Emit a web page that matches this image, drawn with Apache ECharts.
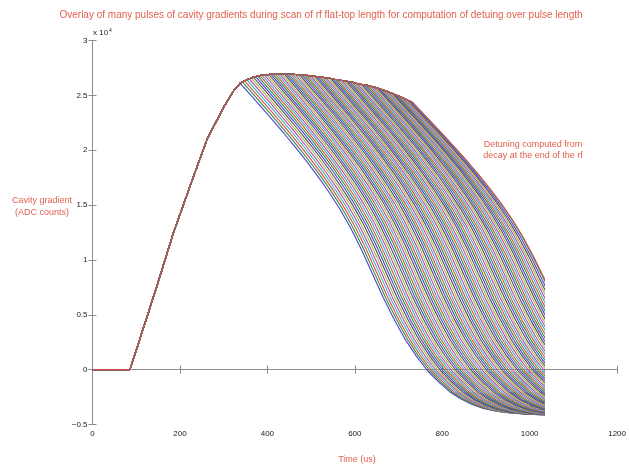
<!DOCTYPE html>
<html>
<head>
<meta charset="utf-8">
<script src="https://cdn.jsdelivr.net/npm/echarts@6/dist/echarts.min.js"></script>
<style>
  html, body { margin: 0; padding: 0; background: #fff; }
  #main { width: 629px; height: 466px; }
</style>
</head>
<body>
<div id="main"></div>
<script>
// values in units of 10^4 ADC counts, time in us
var riseT = [0, 85, 146, 183, 221, 259, 297, 320];
var riseV = [0, 0, 0.76, 1.24, 1.67, 2.09, 2.39, 2.54];

// end of rf flat-top for each pulse, and gradient at that moment
var offT = [335, 340, 345, 350, 355, 360, 365, 370, 375, 380,
    385, 390, 395, 400, 405, 410, 415, 420, 425, 430,
    435, 440, 445, 450, 455, 460, 465, 470, 475, 480,
    485, 490, 495, 500, 505, 510, 515, 520, 525, 530,
    535, 540, 545, 550, 555, 560, 565, 570, 575, 580,
    585, 590, 595, 600, 605, 610, 615, 620, 625, 630,
    635, 640, 645, 650, 655, 660, 665, 670, 675, 680,
    685, 690, 695, 700, 705, 710, 715, 720, 725, 727];
var offV = [2.61, 2.622, 2.633, 2.643, 2.652, 2.659, 2.665, 2.671, 2.676, 2.68,
    2.683, 2.686, 2.688, 2.69, 2.691, 2.692, 2.693, 2.694, 2.695, 2.695,
    2.695, 2.694, 2.693, 2.693, 2.692, 2.69, 2.689, 2.687, 2.686, 2.684,
    2.682, 2.68, 2.678, 2.676, 2.673, 2.671, 2.668, 2.666, 2.663, 2.66,
    2.657, 2.654, 2.651, 2.647, 2.644, 2.64, 2.636, 2.633, 2.629, 2.625,
    2.621, 2.618, 2.614, 2.609, 2.605, 2.601, 2.598, 2.594, 2.589, 2.584,
    2.579, 2.574, 2.568, 2.562, 2.555, 2.549, 2.542, 2.534, 2.526, 2.519,
    2.51, 2.502, 2.493, 2.484, 2.475, 2.466, 2.457, 2.449, 2.44, 2.432];

// decay after rf off, read from the first pulse (scaled by each pulse's gradient)
var decayDt = [0, 25, 50, 75, 100, 125, 150, 175, 200, 225, 250, 275, 300, 325, 350, 375,
    400, 425, 450, 475, 500, 525, 550, 575, 600, 625, 650, 700];
var decayV = [2.60, 2.487, 2.374, 2.259, 2.142, 2.021, 1.895, 1.762, 1.62, 1.465, 1.29, 1.09,
    0.87, 0.65, 0.45, 0.27, 0.12, -0.01, -0.11, -0.20, -0.265, -0.315, -0.35, -0.373,
    -0.388, -0.396, -0.40, -0.40];

var xTicks = [0, 200, 400, 600, 800, 1000, 1200];
var yTicks = [-0.5, 0, 0.5, 1, 1.5, 2, 2.5, 3];
var tEnd = 1025; // last recorded sample

var colors = ['#4646d6', '#3a8a3a', '#d4504c', '#3db3b3', '#b24cb2', '#b3b34a', '#505050'];
var red = '#e2604e';

function pulse(i) {
    var pts = [];
    for (var k = 0; k < riseT.length; k++) pts.push([riseT[k], riseV[k]]);
    for (var j = 0; j <= i; j++) pts.push([offT[j], offV[j]]);
    for (var d = 1; d < decayDt.length; d++) {
        pts.push([offT[i] + decayDt[d], offV[i] * decayV[d] / decayV[0]]);
    }
    return pts;
}

var series = [];
for (var i = 0; i < offT.length; i++) {
    series.push({
        type: 'line',
        xAxisIndex: 2,
        yAxisIndex: 2,
        data: pulse(i),
        showSymbol: false,
        clip: true,
        silent: true,
        lineStyle: { width: 1.1, color: colors[i % colors.length] }
    });
}

var axisGray = '#8c8c8c';
var tickStyle = { show: true, inside: true, length: 4, lineStyle: { color: axisGray } };

var chart = echarts.init(document.getElementById('main'));
chart.setOption({
    animation: false,
    backgroundColor: '#fff',
    grid: [
        { left: 92.5, right: 7.5, top: 40.5, bottom: 41.5 },
        { left: 92.5, width: tEnd * 529 / 1200, top: 40.5, bottom: 41.5 }
    ],
    xAxis: [
        {
            gridIndex: 0, type: 'value', min: xTicks[0], max: xTicks[xTicks.length - 1], interval: 200,
            position: 'bottom',
            axisLine: { lineStyle: { color: axisGray } },
            axisTick: tickStyle,
            splitLine: { show: false },
            axisLabel: {
                color: '#222', fontSize: 8, margin: 5, fontFamily: 'Liberation Sans',
                formatter: function (v) { return String(v); }
            }
        },
        {
            gridIndex: 0, type: 'value', min: 0, max: 1200, interval: 200,
            position: 'top',
            axisLine: { lineStyle: { color: axisGray } },
            axisTick: tickStyle,
            splitLine: { show: false },
            axisLabel: { show: false }
        },
        { gridIndex: 1, type: 'value', min: 0, max: tEnd, show: false }
    ],
    yAxis: [
        {
            gridIndex: 0, type: 'value', min: yTicks[0], max: yTicks[yTicks.length - 1], interval: 0.5,
            position: 'left',
            axisLine: { show: true, lineStyle: { color: axisGray } },
            axisTick: tickStyle,
            splitLine: { show: false },
            axisLabel: {
                color: '#222', fontSize: 8, margin: 5, fontFamily: 'Liberation Sans',
                formatter: function (v) { return String(v).replace('-', '\u2212'); }
            }
        },
        {
            gridIndex: 0, type: 'value', min: -0.5, max: 3, interval: 0.5,
            position: 'right',
            axisLine: { show: true, lineStyle: { color: axisGray } },
            axisTick: tickStyle,
            splitLine: { show: false },
            axisLabel: { show: false }
        },
        { gridIndex: 1, type: 'value', min: -0.5, max: 3, show: false }
    ],
    graphic: [
        {
            type: 'text', x: 321, y: 15,
            style: {
                text: 'Overlay of many pulses of cavity gradients during scan of rf flat-top length for computation of detuing over pulse length',
                fill: red, font: '10px "Liberation Sans"', align: 'center', verticalAlign: 'middle'
            }
        },
        {
            type: 'text', x: 93, y: 28,
            style: {
                text: '{a|x 10}{b|4}',
                rich: {
                    a: { fill: '#222', font: '8px "Liberation Sans"' },
                    b: { fill: '#222', font: '5px "Liberation Sans"', verticalAlign: 'top', padding: [0, 0, 5, 1] }
                }
            }
        },
        {
            type: 'text', x: 42, y: 207,
            style: {
                text: 'Cavity gradient\n(ADC counts)', fill: red, font: '9px "Liberation Sans"',
                align: 'center', verticalAlign: 'middle', lineHeight: 12
            }
        },
        {
            type: 'text', x: 533, y: 150,
            style: {
                text: 'Detuning computed from\ndecay at the end of the rf', fill: red,
                font: '9px "Liberation Sans"', align: 'center', verticalAlign: 'middle', lineHeight: 11
            }
        },
        {
            type: 'text', x: 357, y: 460,
            style: {
                text: 'Time (us)', fill: red, font: '9px "Liberation Sans"',
                align: 'center', verticalAlign: 'middle'
            }
        }
    ],
    series: series
});
</script>
</body>
</html>
